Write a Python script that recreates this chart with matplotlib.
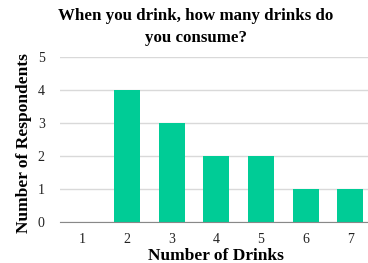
import numpy as np
import matplotlib.pyplot as plt

# datos
drinks = ["1", "2", "3", "4", "5", "6", "7"]
respondents = [0, 4, 3, 2, 2, 1, 1]

plt.rcParams['font.family'] = ['Liberation Serif', 'DejaVu Serif']

fig = plt.figure(figsize=(3.68, 2.63), dpi=100)
ax = fig.add_axes([60/368, 41.3/263, 312.7/368, 164.4/263])

x = np.arange(len(drinks))
ax.bar(x, respondents, width=0.58, color='#00CC96', zorder=3)

ax.set_xlim(-0.5, len(drinks) - 0.5)
ax.set_ylim(0, 5)
ax.set_xticks(x)
ax.set_xticklabels(drinks)
ax.set_yticks(range(0, 6))
ax.grid(axis='y', color='#d9d9d9', linewidth=1, zorder=0)
for s in ['top', 'right', 'left']:
    ax.spines[s].set_visible(False)
ax.spines['bottom'].set_color('#888888')
ax.spines['bottom'].set_zorder(4)
ax.tick_params(length=0, labelsize=10, colors='#222222')
ax.tick_params(axis='x', pad=8)
ax.tick_params(axis='y', pad=11)

fig.text(216/368, 1 - 256/263, 'Number of Drinks', fontsize=12.5,
         fontweight='bold', ha='center', va='center')
fig.text(24/368, 1 - 143.5/263, 'Number of Respondents', rotation=90,
         fontsize=12.5, fontweight='bold', ha='center', va='center')
fig.text(196/368, 1 - 27/263, 'When you drink, how many drinks do\nyou consume?',
         fontsize=12.2, fontweight='bold', ha='center', va='center', linespacing=1.45)

fig.savefig('out.png', dpi=100)
